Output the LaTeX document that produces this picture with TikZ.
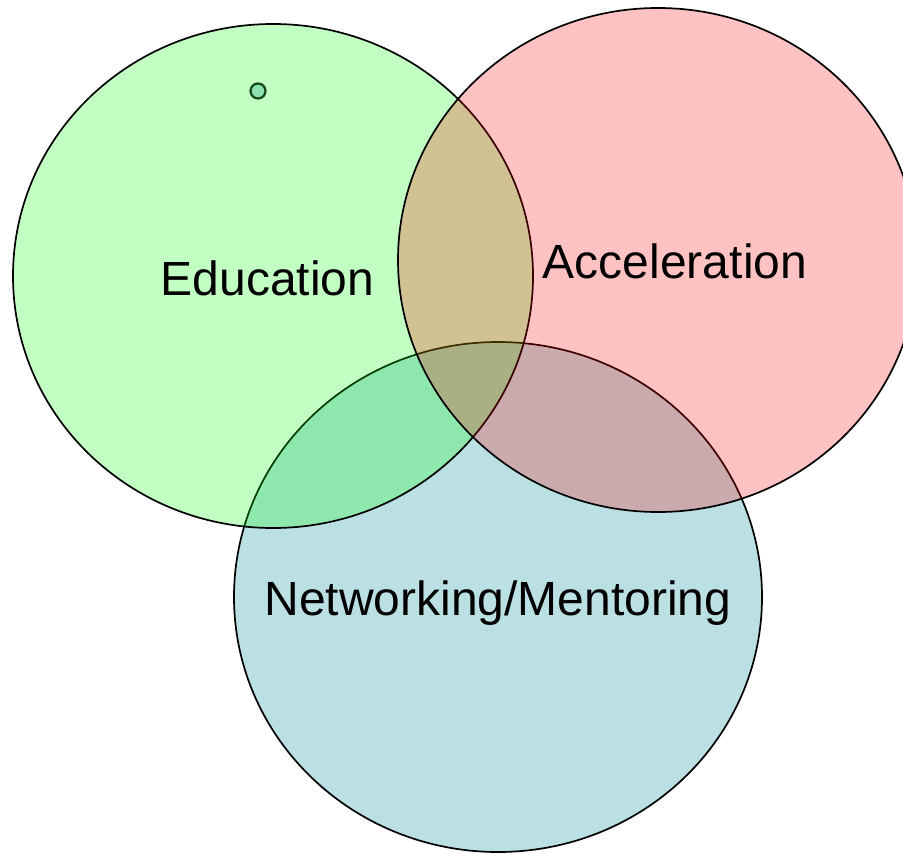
\documentclass[tikz,border=0pt]{standalone}
\usepackage{fontspec}
\setmainfont{Liberation Sans}
\usepackage{tikz}

\definecolor{edugreen}{RGB}{0,255,0}
\definecolor{accred}{RGB}{255,0,0}
\definecolor{netblue}{RGB}{0,140,155}
\definecolor{dotfill}{RGB}{142,226,176}
\definecolor{dotline}{RGB}{20,70,25}

\tikzset{
  setcircle/.style = {draw = black, line width = .85pt, fill opacity = .24},
  setlabel/.style = {anchor = base, font = \fontsize{24}{29}\selectfont}
}

\begin{document}
\begin{tikzpicture}[x = .5pt, y = .5pt]
 \useasboundingbox (0,0) rectangle (903,853);
 \begin{scope}
  \clip (0,0) rectangle (903,853);
  \draw[setcircle, fill = netblue, fill opacity = .27] (498, 256) ellipse [x radius = 264, y radius = 255];
  \draw[setcircle, fill = edugreen] (273, 577) ellipse [x radius = 260, y radius = 252];
  \draw[setcircle, fill = accred] (658, 593) ellipse [x radius = 260, y radius = 252];
 \end{scope}
 \draw[dotline, line width = 1.1pt, fill = dotfill] (258, 762) circle [radius = 7.5];
 \node[setlabel] (edu) at (267.5, 558) {Education};
 \node[setlabel] (acc) at (675, 575) {Acceleration};
 \node[setlabel] (net) at (498, 238) {Networking/Mentoring};
\end{tikzpicture}
\end{document}
